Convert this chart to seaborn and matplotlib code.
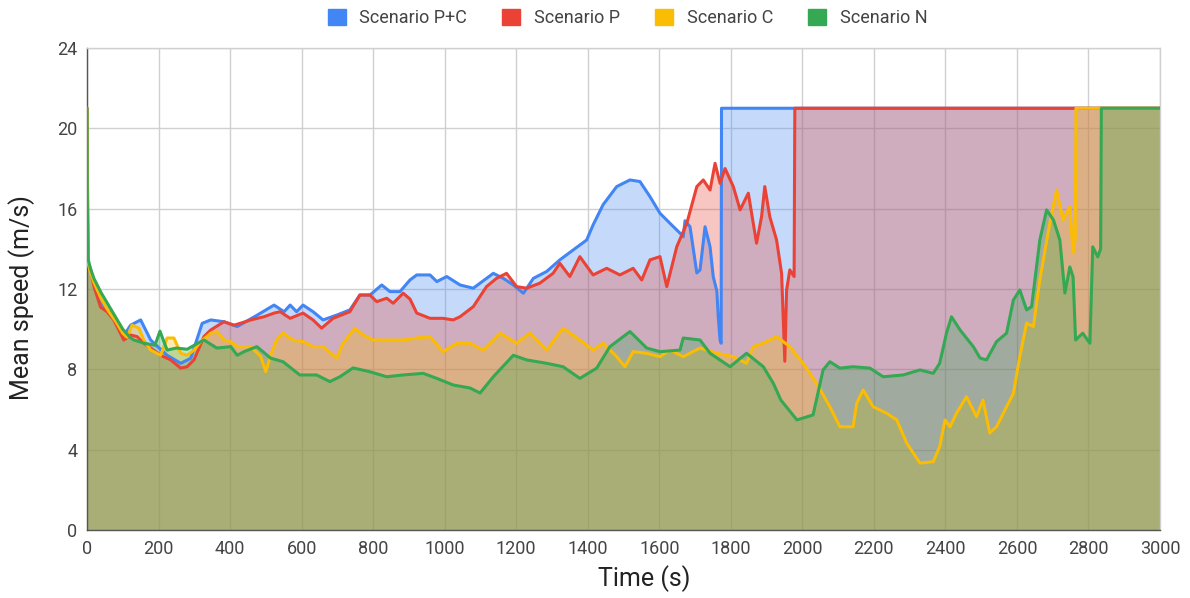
import numpy as np
import pandas as pd
import matplotlib
matplotlib.use("Agg")
import matplotlib.pyplot as plt
from matplotlib.patches import Patch
import seaborn as sns

series_names = ["Scenario P+C", "Scenario P", "Scenario C", "Scenario N"]
colors = ["#4285F4", "#EA4335", "#FBBC04", "#34A853"]

t_pc = [0,1,3,10,20,40,60,80,100,122,150,178,224,262,290,322,346,383,420,476,523,551,568,586,604,632,660,698,735,763,791,824,847,875,903,922,959,978,1006,1043,1080,1136,1164,1192,1220,1248,1285,1322,1359,1397,1415,1443,1481,1518,1546,1574,1602,1630,1658,1667,1672,1686,1705,1714,1728,1742,1751,1761,1765,1770,1773,1774,3000]
v_pc = [21,18,13.3,13.0,12.2,11.3,10.9,10.5,9.6,10.2,10.46,9.46,8.7,8.3,8.55,10.29,10.46,10.37,10.13,10.7,11.2,10.87,11.2,10.87,11.2,10.87,10.46,10.7,10.96,11.7,11.7,12.2,11.87,11.87,12.45,12.7,12.7,12.37,12.62,12.2,12.04,12.78,12.53,12.2,11.79,12.53,12.87,13.45,13.94,14.44,15.19,16.2,17.1,17.43,17.35,16.6,15.77,15.27,14.78,14.6,15.4,15.1,12.8,12.95,15.1,14.1,12.6,11.9,10.6,9.46,9.3,21,21]

t_p = [0,1,3,10,20,38,56,75,103,122,140,159,178,206,234,262,280,299,327,346,383,411,430,458,495,523,540,568,604,632,656,688,735,763,791,810,838,856,884,903,922,959,995,1024,1043,1080,1117,1145,1173,1201,1229,1266,1303,1322,1350,1378,1415,1453,1490,1527,1551,1574,1602,1621,1649,1677,1705,1723,1742,1756,1770,1784,1807,1826,1849,1872,1886,1895,1909,1928,1942,1951,1956,1965,1977,1979,3000]
v_p = [21,18,13.2,12.95,12.1,11.1,10.87,10.46,9.46,9.71,9.63,9.3,9.06,8.7,8.47,8.06,8.13,8.47,9.63,9.96,10.37,10.2,10.3,10.46,10.62,10.8,10.87,10.54,10.8,10.46,10.05,10.54,10.87,11.7,11.7,11.37,11.54,11.29,11.79,11.5,10.8,10.54,10.54,10.46,10.62,11.12,12.12,12.53,12.78,12.12,12.04,12.29,12.78,13.28,12.62,13.61,12.7,13.03,12.7,13.03,12.45,13.45,13.61,12.12,14.11,15.27,17.1,17.43,16.93,18.26,17.26,18.0,17.1,15.94,16.77,14.28,15.6,17.1,15.6,14.44,12.78,8.4,11.95,12.95,12.62,21,21]

t_c = [0,1,3,10,20,40,60,80,100,112,126,145,159,178,206,224,243,262,280,299,318,346,364,383,402,420,458,486,500,513,530,548,576,604,632,660,698,716,749,772,800,838,884,922,959,995,1034,1071,1108,1155,1201,1238,1285,1331,1378,1415,1443,1481,1504,1527,1565,1602,1630,1667,1714,1761,1807,1844,1863,1891,1928,1965,2002,2040,2077,2105,2142,2152,2170,2198,2236,2264,2292,2329,2366,2384,2399,2413,2431,2459,2487,2505,2524,2543,2571,2590,2608,2627,2646,2664,2692,2711,2729,2748,2757,2763,2765,3000]
v_c = [21,16,13.3,12.8,12.3,11.5,10.9,10.4,9.8,9.6,10.2,10.05,9.46,8.96,8.7,9.56,9.56,8.8,8.7,8.96,9.38,9.8,9.88,9.46,9.38,9.13,9.13,8.63,7.88,8.7,9.46,9.8,9.46,9.38,9.13,9.13,8.56,9.3,10.05,9.71,9.46,9.46,9.46,9.56,9.63,8.88,9.3,9.3,8.96,9.8,9.3,9.8,8.96,10.05,9.46,8.96,9.3,8.63,8.13,8.88,8.8,8.63,8.96,8.63,9.06,8.8,8.63,8.3,9.13,9.3,9.63,9.13,8.3,7.3,6.14,5.14,5.14,6.31,6.97,6.14,5.81,5.48,4.32,3.33,3.4,4.15,5.48,5.14,5.81,6.64,5.64,6.47,4.83,5.14,6.14,6.8,8.63,10.3,10.13,12.45,15.29,16.93,15.44,16.1,13.8,14.5,21,21]

t_n = [0,1,3,10,20,40,60,80,100,120,131,160,190,204,224,250,280,300,318,327,363,402,420,439,475,513,548,595,642,679,707,744,791,838,884,940,978,1024,1071,1099,1136,1192,1229,1285,1331,1378,1425,1462,1518,1565,1602,1658,1667,1714,1742,1798,1844,1891,1919,1940,1985,2030,2058,2077,2105,2142,2189,2226,2282,2329,2366,2384,2403,2417,2441,2478,2497,2515,2543,2571,2590,2608,2627,2641,2664,2683,2702,2720,2734,2748,2757,2764,2784,2804,2812,2826,2834,2836,3000]
v_n = [21,16,13.5,13.0,12.5,11.8,11.2,10.6,10.0,9.6,9.46,9.3,9.2,9.9,8.96,9.06,9.0,9.2,9.38,9.46,9.06,9.13,8.7,8.88,9.13,8.56,8.38,7.72,7.72,7.39,7.63,8.07,7.88,7.63,7.72,7.8,7.55,7.22,7.07,6.82,7.63,8.7,8.47,8.3,8.13,7.55,8.06,9.13,9.88,9.06,8.88,8.96,9.56,9.46,8.8,8.13,8.8,8.13,7.3,6.47,5.48,5.73,7.97,8.38,8.06,8.13,8.06,7.63,7.72,7.97,7.8,8.3,9.8,10.62,9.96,9.13,8.56,8.47,9.38,9.8,11.45,11.95,10.96,11.12,14.44,15.94,15.44,14.44,11.8,13.1,12.6,9.46,9.8,9.3,14.1,13.6,14.0,21,21]

x_ticks = list(range(0, 3001, 200))
y_ticks = [0, 4, 8, 12, 16, 20, 24]

times = [t_pc, t_p, t_c, t_n]
vals = [v_pc, v_p, v_c, v_n]
for a, b in zip(times, vals):
    assert len(a) == len(b), (len(a), len(b))

frames = []
for name, t, v in zip(series_names, times, vals):
    frames.append(pd.DataFrame({"series": name, "Time (s)": t, "Mean speed (m/s)": v}))
df = pd.concat(frames, ignore_index=True)

sns.set_theme(style="white")
plt.rcParams["font.family"] = ["Roboto", "DejaVu Sans"]

fig = plt.figure(figsize=(11.9, 5.98), dpi=100)
ax = fig.add_axes([87/1190, 1-530/598, (1160-87)/1190, (530-48)/598])

for name, col in zip(series_names, colors):
    sub = df[df["series"] == name]
    ax.fill_between(sub["Time (s)"], sub["Mean speed (m/s)"], 0, color=col, alpha=0.3, linewidth=0, zorder=2)

sns.lineplot(data=df, x="Time (s)", y="Mean speed (m/s)", hue="series", hue_order=series_names,
             palette=colors, estimator=None, sort=False, linewidth=2.2, ax=ax, legend=False, zorder=3)

ax.set_xlim(0, 3000)
ax.set_ylim(0, 24)
ax.set_xticks(x_ticks)
ax.set_yticks(y_ticks)
ax.set_xticklabels([str(x) for x in x_ticks])
ax.set_yticklabels([str(y) for y in y_ticks])
ax.grid(True, color="#d0d0d0", linewidth=1.0, zorder=0)
ax.set_axisbelow(True)
ax.tick_params(axis="x", length=0, labelsize=13, labelcolor="#444444", pad=7)
ax.tick_params(axis="y", length=0, labelsize=13, labelcolor="#444444", pad=7)
for s in ["top", "right"]:
    ax.spines[s].set_color("#d0d0d0")
    ax.spines[s].set_linewidth(1.0)
for s in ["left", "bottom"]:
    ax.spines[s].set_color("#555555")
    ax.spines[s].set_linewidth(1.0)
ax.set_xlabel("Time (s)", fontsize=18, color="#222222")
ax.set_ylabel("Mean speed (m/s)", fontsize=18, color="#222222")
ax.xaxis.set_label_coords((644-87)/1073, (530-565)/482)
ax.yaxis.set_label_coords((35-87)/1073, (530-298)/482)

handles = [Patch(facecolor=c, edgecolor=c, label=n) for n, c in zip(series_names, colors)]
fig.legend(handles=handles, loc="center", bbox_to_anchor=(627.5/1190, 1-18/598), ncol=4, frameon=False,
           fontsize=13, handlelength=1.0, handleheight=1.0, columnspacing=1.95, handletextpad=0.75,
           labelcolor="#444444", borderpad=0.2)

fig.savefig("out.png", dpi=100)
